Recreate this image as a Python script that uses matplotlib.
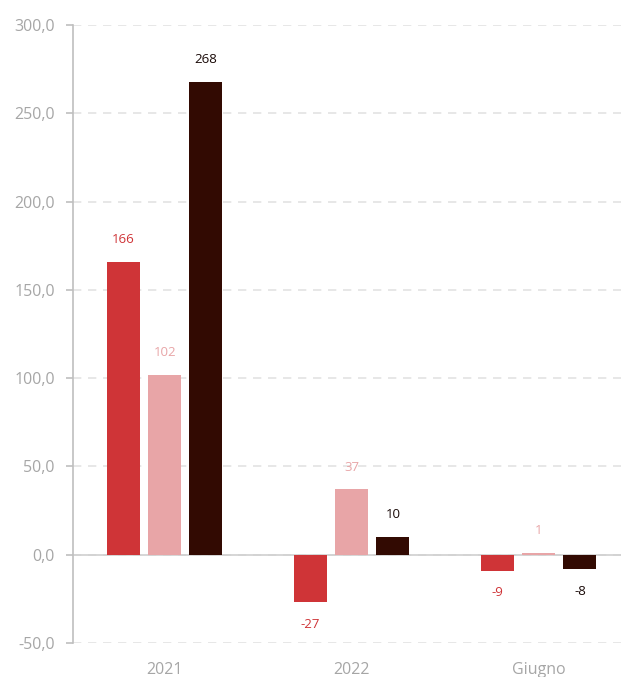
import numpy as np
import matplotlib
matplotlib.use('Agg')
from matplotlib import pyplot as plt

categories = ['2021', '2022', 'Giugno']
serie_a = [166, -27, -9]
serie_b = [102, 37, 1]
serie_c = [268, 10, -8]
yticks = [-50, 0, 50, 100, 150, 200, 250, 300]

colors = ['#CF3437', '#E8A5A7', '#320A02']
label_colors = ['#CF3437', '#E8A5A7', '#1A0A08']

plt.rcParams['font.family'] = ['Open Sans', 'DejaVu Sans']
fig = plt.figure(figsize=(6.21, 6.77), dpi=100)
ax = fig.add_axes([73/621, 1-643/677, (621-73)/621, (643-25)/677])

x = np.arange(len(categories))
off = 0.22
w = 0.175
for i, vals in enumerate([serie_a, serie_b, serie_c]):
    pos = x + (i-1)*off
    ax.bar(pos, vals, w, color=colors[i], zorder=3)
    for p, v in zip(pos, vals):
        dy = 16 if v >= 0 else -16
        ax.annotate(str(v), (p, v), xytext=(0, dy), textcoords='offset points',
                    ha='center', va='center', fontsize=9.5, color=label_colors[i])

ax.set_xlim(-0.49, 2.44)
ax.set_ylim(-50, 300)
ax.set_yticks(yticks)
ax.set_yticklabels([('%.1f' % t).replace('.', ',') for t in yticks])
ax.set_xticks(x)
ax.set_xticklabels(categories)

ax.grid(axis='y', color='#E3E3E3', linestyle=(0, (5, 4)), linewidth=1.2, zorder=0)
ax.axhline(0, color='#D0D0D0', linewidth=1.2, zorder=2)
for s in ['top', 'right', 'bottom']:
    ax.spines[s].set_visible(False)
ax.spines['left'].set_color('#BFBFBF')
ax.spines['left'].set_linewidth(1.2)
ax.tick_params(axis='y', colors='#BFBFBF', labelcolor='#A6A6A6', labelsize=11.5, length=5, width=1.2, pad=8)
ax.tick_params(axis='x', length=0, labelcolor='#A6A6A6', labelsize=11.5, pad=14)

fig.savefig('out.png', dpi=100)
